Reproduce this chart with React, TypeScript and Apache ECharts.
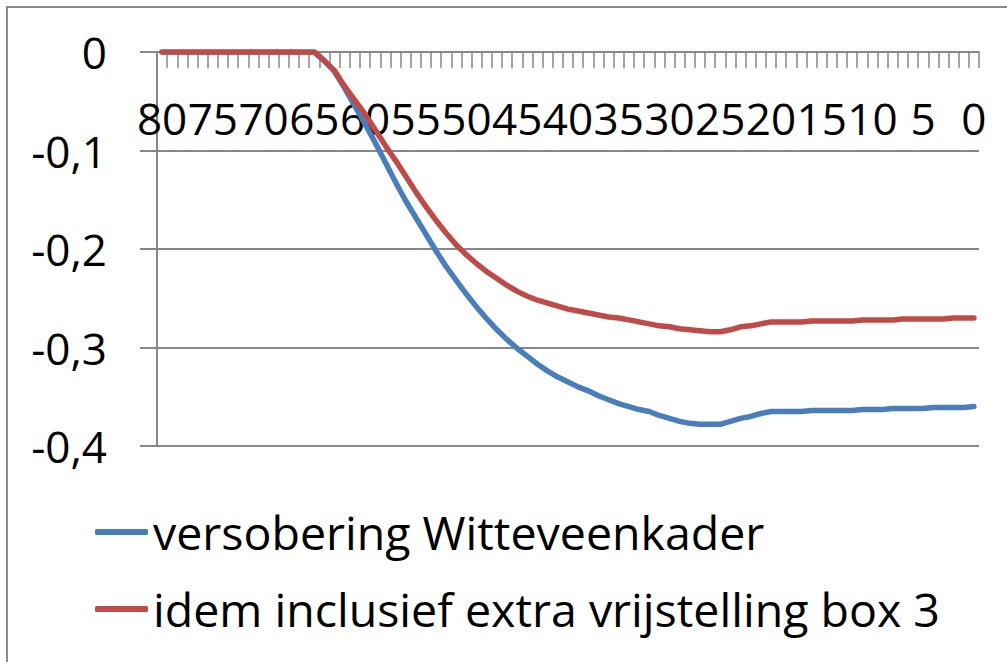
import React, { useEffect, useRef } from "react";
import * as echarts from "echarts";

const categories: string[] = [
  "80","79","78","77","76","75","74","73","72","71",
  "70","69","68","67","66","65","64","63","62","61",
  "60","59","58","57","56","55","54","53","52","51",
  "50","49","48","47","46","45","44","43","42","41",
  "40","39","38","37","36","35","34","33","32","31",
  "30","29","28","27","26","25","24","23","22","21",
  "20","19","18","17","16","15","14","13","12","11",
  "10","9","8","7","6","5","4","3","2","1","0",
];

const seriesNames = [
  "versobering Witteveenkader",
  "idem inclusief extra vrijstelling box 3",
];

// 80 .. 0
const blueValues: number[] = [
  0, 0, 0, 0, 0, 0, 0, 0, 0, 0,
  0, 0, 0, 0, 0, 0, -0.009, -0.02, -0.037, -0.055,
  -0.073, -0.092, -0.112, -0.132, -0.151, -0.168, -0.185, -0.202, -0.218, -0.232,
  -0.246, -0.259, -0.271, -0.282, -0.292, -0.301, -0.309, -0.317, -0.324, -0.33,
  -0.335, -0.34, -0.344, -0.349, -0.353, -0.357, -0.36, -0.363, -0.365, -0.369,
  -0.372, -0.375, -0.377, -0.378, -0.378, -0.378, -0.375, -0.372, -0.37, -0.367,
  -0.365, -0.365, -0.365, -0.365, -0.364, -0.364, -0.364, -0.364, -0.364, -0.363,
  -0.363, -0.363, -0.362, -0.362, -0.362, -0.362, -0.361, -0.361, -0.361, -0.361, -0.36,
];

const redValues: number[] = [
  0, 0, 0, 0, 0, 0, 0, 0, 0, 0,
  0, 0, 0, 0, 0, 0, -0.009, -0.019, -0.035, -0.049,
  -0.063, -0.079, -0.095, -0.11, -0.126, -0.142, -0.157, -0.171, -0.184, -0.196,
  -0.206, -0.215, -0.223, -0.23, -0.237, -0.243, -0.248, -0.252, -0.255, -0.258,
  -0.261, -0.263, -0.265, -0.267, -0.269, -0.27, -0.272, -0.274, -0.276, -0.278,
  -0.279, -0.281, -0.282, -0.283, -0.284, -0.284, -0.282, -0.279, -0.278, -0.276,
  -0.274, -0.274, -0.274, -0.274, -0.273, -0.273, -0.273, -0.273, -0.273, -0.272,
  -0.272, -0.272, -0.272, -0.271, -0.271, -0.271, -0.271, -0.271, -0.27, -0.27, -0.27,
];

const colors = ["#4A7EBB", "#BE4B48"];
const axisGrey = "#878787";
const font = "Open Sans";

export default function App() {
  const ref = useRef<HTMLDivElement>(null);
  useEffect(() => {
    if (!ref.current) return;
    const chart = echarts.init(ref.current, undefined, { renderer: "svg" });
    chart.setOption({
      animation: false,
      backgroundColor: "#ffffff",
      graphic: [
        {
          type: "rect",
          shape: { x: 7, y: 7, width: 1020, height: 680 },
          style: { fill: "none", stroke: "#8a8a8a", lineWidth: 2 },
          silent: true,
        },
      ],
      grid: { left: 157, top: 52, right: 28, bottom: 216, containLabel: false },
      legend: {
        orient: "vertical",
        left: 95,
        top: 504,
        padding: 0,
        icon: "roundRect",
        itemWidth: 53,
        itemHeight: 6,
        itemGap: 21,
        data: seriesNames,
        textStyle: {
          fontFamily: font,
          fontSize: 46.5,
          color: "#000",
          lineHeight: 56,
        },
      },
      xAxis: {
        type: "category",
        data: categories,
        position: "top",
        boundaryGap: true,
        axisLine: { show: true, onZero: false, lineStyle: { color: axisGrey, width: 2 } },
        axisTick: { show: true, inside: true, interval: 0, length: 16, lineStyle: { color: axisGrey, width: 1.5 } },
        axisLabel: {
          inside: true,
          interval: 4,
          margin: 44,
          fontFamily: font,
          fontSize: 44,
          color: "#000",
        },
        splitLine: { show: false },
      },
      yAxis: {
        type: "value",
        min: -0.4,
        max: 0,
        interval: 0.1,
        axisLine: { show: true, lineStyle: { color: axisGrey, width: 2 } },
        axisTick: { show: true, length: 17, lineStyle: { color: axisGrey, width: 2 } },
        axisLabel: {
          margin: 50,
          fontFamily: font,
          fontSize: 44,
          color: "#000",
          formatter: (v: number) =>
            Math.abs(v) < 1e-9 ? "0" : v.toFixed(1).replace(".", ","),
        },
        splitLine: { show: true, lineStyle: { color: axisGrey, width: 2 } },
      },
      series: [
        {
          name: seriesNames[0],
          type: "line",
          data: blueValues,
          symbol: "none",
          color: colors[0],
          lineStyle: { color: colors[0], width: 5.5, cap: "round", join: "round" },
        },
        {
          name: seriesNames[1],
          type: "line",
          data: redValues,
          symbol: "none",
          color: colors[1],
          lineStyle: { color: colors[1], width: 5.5, cap: "round", join: "round" },
        },
      ],
    });
    return () => chart.dispose();
  }, []);
  return (
    <div
      ref={ref}
      style={{ position: "absolute", left: 0, top: 0, width: 1007, height: 662 }}
    />
  );
}
